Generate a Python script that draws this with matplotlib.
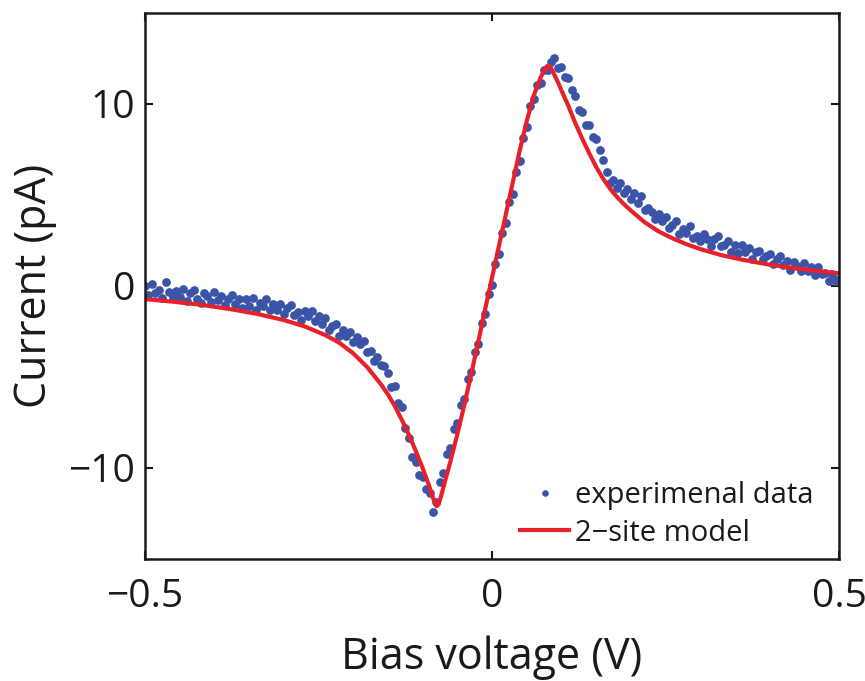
import numpy as np
import matplotlib
matplotlib.use("Agg")
import matplotlib.pyplot as plt

plt.rcParams['font.family'] = ['Open Sans', 'DejaVu Sans']

# Experimental data (current in pA), bias sweep -0.5 V .. 0.5 V in 5 mV steps
data_current = [
    0.00, -0.52, 0.11, -0.36, -0.24, -0.66, 0.22, -0.35, -0.62, -0.25,
    -0.62, -0.19, -0.82, -0.40, -0.22, -0.69, -0.96, -0.38, -0.56, -0.88,
    -0.35, -0.77, -0.55, -1.02, -0.70, -0.52, -1.00, -0.73, -1.21, -0.70,
    -1.10, -0.68, -1.30, -0.93, -1.11, -0.74, -1.32, -1.01, -1.30, -0.99,
    -1.53, -1.22, -1.06, -1.61, -1.41, -1.86, -1.36, -1.67, -1.38, -1.90,
    -1.65, -2.10, -1.75, -2.40, -2.20, -2.10, -2.75, -2.40, -2.75, -2.55,
    -3.05, -2.78, -3.20, -3.00, -3.60, -3.55, -4.10, -3.90, -4.35, -4.40,
    -4.80, -5.55, -5.50, -6.45, -6.65, -7.80, -8.35, -9.40, -9.65, -10.40,
    -10.50, -11.15, -11.35, -12.40, -11.85, -10.75, -10.30, -9.25, -8.90, -7.85,
    -7.50, -6.55, -6.20, -5.10, -4.70, -3.60, -3.20, -2.05, -1.55, -0.45,
    0.05, 1.20, 1.75, 2.90, 3.45, 4.60, 5.05, 6.25, 6.85, 8.15,
    8.75, 9.90, 10.25, 11.05, 11.15, 11.85, 11.85, 12.30, 12.55, 12.00,
    12.05, 11.50, 11.45, 10.75, 10.45, 9.65, 9.55, 8.85, 8.85, 8.20,
    8.10, 7.45, 6.95, 6.25, 5.65, 5.85, 5.40, 5.65, 5.10, 5.35,
    4.80, 5.12, 4.55, 4.92, 4.20, 4.30, 4.05, 3.70, 3.95, 3.55,
    3.80, 3.20, 3.35, 3.55, 2.85, 3.13, 2.90, 3.27, 2.65, 2.77,
    2.45, 2.85, 2.59, 2.18, 2.57, 2.72, 2.21, 2.26, 2.50, 1.89,
    2.24, 1.83, 2.28, 1.87, 2.07, 1.51, 1.86, 1.95, 1.50, 1.64,
    1.74, 1.23, 1.48, 1.67, 1.17, 1.36, 0.90, 1.30, 1.10, 0.85,
    1.25, 0.85, 1.05, 0.58, 1.06, 0.64, 0.72, 0.25, 0.68, 0.26,
    0.40,
]
data_bias = np.linspace(-0.5, 0.5, len(data_current))

# 2-site model curve
model_bias = [
    -0.50, -0.46, -0.42, -0.38, -0.34, -0.30, -0.27, -0.24, -0.22, -0.20,
    -0.18, -0.16, -0.15, -0.14, -0.13, -0.12, -0.11, -0.10, -0.09, -0.085,
    -0.080, -0.077, -0.073, -0.07, -0.06, -0.05, -0.04, -0.03, -0.02, -0.01,
    0.00, 0.01, 0.02, 0.03, 0.04, 0.05, 0.06, 0.07, 0.075, 0.080,
    0.084, 0.088, 0.095, 0.10, 0.11, 0.12, 0.13, 0.14, 0.15, 0.16,
    0.17, 0.18, 0.19, 0.20, 0.22, 0.24, 0.26, 0.28, 0.30, 0.33,
    0.36, 0.40, 0.44, 0.47, 0.50,
]
model_current = [
    -0.72, -0.86, -1.03, -1.25, -1.52, -1.87, -2.22, -2.70, -3.12, -3.70,
    -4.45, -5.40, -5.95, -6.60, -7.35, -8.15, -9.05, -10.00, -11.05, -11.65,
    -12.10, -12.00, -11.50, -11.05, -9.65, -8.15, -6.55, -4.85, -3.10, -1.30,
    0.45, 2.20, 3.95, 5.70, 7.45, 9.05, 10.45, 11.45, 11.85, 12.10,
    12.05, 11.75, 11.20, 10.75, 9.90, 8.95, 8.10, 7.30, 6.55, 5.90,
    5.35, 4.90, 4.50, 4.15, 3.50, 3.00, 2.62, 2.30, 2.03, 1.70,
    1.45, 1.17, 0.96, 0.82, 0.70,
]

x_ticks = [-0.5, 0, 0.5]
x_ticklabels = ['\u22120.5', '0', '0.5']
y_ticks = [-10, 0, 10]
y_ticklabels = ['\u221210', '0', '10']

fig = plt.figure(figsize=(8.65, 6.81), dpi=100)
ax = fig.add_axes([145/865, 1-559/681, (839-145)/865, (559-13)/681])

ax.plot(data_bias, data_current, linestyle='none', marker='o', ms=6.3,
        mec='none', color='#3a55a8', label='experimenal data')
ax.plot(model_bias, model_current, color='#e8202a', lw=3.0,
        label='2\u2212site model')

ax.set_xlim(-0.5, 0.5)
ax.set_ylim(-15, 15)
ax.set_xticks(x_ticks)
ax.set_xticklabels(x_ticklabels)
ax.set_yticks(y_ticks)
ax.set_yticklabels(y_ticklabels)
ax.tick_params(direction='in', length=6, width=1.5, top=True, right=True,
               labelsize=28, colors='#1a1a1a')
ax.tick_params(axis='x', pad=14)
ax.tick_params(axis='y', pad=7)
for s in ax.spines.values():
    s.set_linewidth(1.8)
    s.set_color('#1a1a1a')

ax.set_xlabel('Bias voltage (V)', fontsize=31, labelpad=14, color='#1a1a1a')
ax.set_ylabel('Current (pA)', fontsize=31, labelpad=8, color='#1a1a1a')

leg = ax.legend(loc='lower right', bbox_to_anchor=(0.972, 0.01), frameon=False,
                fontsize=21, handlelength=1.7, handletextpad=0.2,
                labelspacing=0.3, borderpad=0.2, markerscale=0.75,
                borderaxespad=0)
for t in leg.get_texts():
    t.set_color('#1a1a1a')

fig.savefig('out.png', dpi=100)
